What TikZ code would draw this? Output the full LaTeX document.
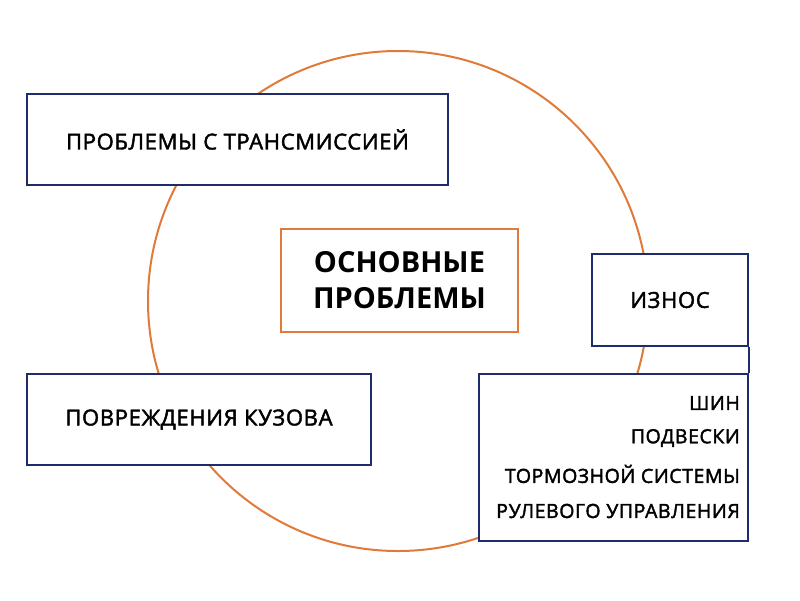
\documentclass[tikz,border=0pt]{standalone}
\usepackage{fontspec}
\setmainfont{Open Sans}
\newfontfamily\semi[FakeBold=2,LetterSpace=3]{Open Sans}
\definecolor{navy}{HTML}{1F2C6B}
\definecolor{rust}{HTML}{E07A3A}
\begin{document}
\begin{tikzpicture}[x=1pt,y=-1pt,
  box/.style={draw=navy,line width=2pt,fill=white,inner sep=0pt,font=\semi\fontsize{22}{25}\selectfont},
  item/.style={anchor=east,inner sep=0pt,font=\semi\fontsize{19.5}{22}\selectfont}]
\useasboundingbox (0,0) rectangle (800,600);
\draw[rust,line width=2pt] (398,301) circle (250);
%% nodes
\node[box,minimum width=421,minimum height=91] (trans) at (237.5,139.5) {ПРОБЛЕМЫ С ТРАНСМИССИЕЙ};
\node[box,draw=rust,minimum width=237,minimum height=103,align=center,
  font=\fontsize{29}{36}\selectfont\bfseries] (main) at (399.5,280.5) {ОСНОВНЫЕ\\ПРОБЛЕМЫ};
\node[box,minimum width=156,minimum height=92] (wear) at (670,300) {ИЗНОС};
\node[box,minimum width=344,minimum height=91] (body) at (199,419.5) {ПОВРЕЖДЕНИЯ КУЗОВА};
\node[box,minimum width=269,minimum height=167] (list) at (613.5,457.5) {};
\node[item] (tyre) at (740,403) {ШИН};
\node[item] (susp) at (740,438) {ПОДВЕСКИ};
\node[item] (brake) at (740,474) {ТОРМОЗНОЙ СИСТЕМЫ};
\node[item] (steer) at (740,511) {РУЛЕВОГО УПРАВЛЕНИЯ};
%%% edges
\draw[navy,line width=2pt] (wear.south east) -- (list.north east);
\end{tikzpicture}
\end{document}
